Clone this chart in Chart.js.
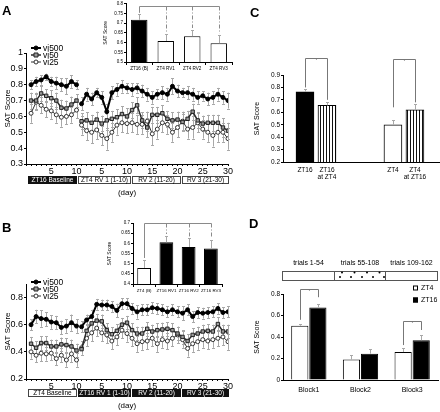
<!DOCTYPE html>
<html><head><meta charset="utf-8">
<script src="https://cdn.jsdelivr.net/npm/chart.js@4.4.1/dist/chart.umd.min.js"></script>
<style>
html,body{margin:0;padding:0;background:#fff;}
body{width:440px;height:412px;position:relative;overflow:hidden;}
canvas{position:absolute;}
.pl{position:absolute;font:bold 13px 'Liberation Sans',Arial,sans-serif;line-height:13px;color:#000;}
</style></head><body>
<canvas id="mainA" width="240" height="160" style="left:0;top:40px"></canvas>
<canvas id="insetA" width="145" height="75" style="left:95px;top:0"></canvas>
<canvas id="mainB" width="240" height="142" style="left:0;top:270px"></canvas>
<canvas id="insetB" width="140" height="82" style="left:100px;top:215px"></canvas>
<canvas id="chartC" width="195" height="140" style="left:245px;top:50px"></canvas>
<canvas id="chartD" width="195" height="157" style="left:245px;top:255px"></canvas>
<div class="pl" style="left:2px;top:4px">A</div>
<div class="pl" style="left:2px;top:221px">B</div>
<div class="pl" style="left:250px;top:6px">C</div>
<div class="pl" style="left:249px;top:217px">D</div>
<script>
// ================= DATA =================
const seriesNames = ['vi500', 'vi50', 'vi25'];
const xTickPositions = [5, 10, 15, 20, 25, 30, 35, 40];
const xTickLabels = ['5', '10', '5', '10', '15', '20', '25', '30'];
const aPeriodLabels = ['ZT16 Baseline', 'ZT4 RV 1 (1-10)', 'RV 2 (11-20)', 'RV 3 (21-30)'];
const bPeriodLabels = ['ZT4 Baseline', 'ZT16 RV 1 (1-10)', 'RV 2 (11-20)', 'RV 3 (21-30)'];

// Panel A (baseline days 1-10, reversal days 1-30)
const aVi500Base = [0.80, 0.82, 0.83, 0.85, 0.82, 0.81, 0.80, 0.79, 0.82, 0.80];
const aVi500BaseErr = [0.03, 0.03, 0.03, 0.02, 0.03, 0.04, 0.04, 0.05, 0.04, 0.03];
const aVi500Rv = [0.68, 0.74, 0.71, 0.75, 0.72, 0.63, 0.75, 0.77, 0.79, 0.78, 0.77, 0.78, 0.76, 0.74, 0.72, 0.74, 0.75, 0.74, 0.79, 0.76, 0.75, 0.75, 0.74, 0.72, 0.73, 0.71, 0.72, 0.74, 0.72, 0.70];
const aVi500RvErr = [0.04, 0.04, 0.04, 0.03, 0.04, 0.05, 0.04, 0.04, 0.04, 0.03, 0.04, 0.03, 0.04, 0.04, 0.04, 0.03, 0.04, 0.04, 0.05, 0.04, 0.03, 0.04, 0.04, 0.04, 0.03, 0.04, 0.04, 0.04, 0.04, 0.05];
const aVi50Base = [0.70, 0.70, 0.745, 0.73, 0.715, 0.70, 0.655, 0.65, 0.675, 0.70];
const aVi50BaseErr = [0.05, 0.05, 0.05, 0.04, 0.05, 0.05, 0.05, 0.05, 0.05, 0.04];
const aVi50Rv = [0.57, 0.575, 0.56, 0.58, 0.555, 0.575, 0.585, 0.595, 0.615, 0.60, 0.64, 0.67, 0.575, 0.53, 0.61, 0.61, 0.62, 0.585, 0.575, 0.58, 0.565, 0.585, 0.63, 0.575, 0.555, 0.56, 0.56, 0.56, 0.53, 0.51];
const aVi50RvErr = [0.05, 0.05, 0.05, 0.05, 0.05, 0.06, 0.05, 0.05, 0.05, 0.05, 0.05, 0.05, 0.05, 0.06, 0.05, 0.05, 0.05, 0.05, 0.05, 0.05, 0.05, 0.05, 0.05, 0.05, 0.05, 0.05, 0.05, 0.05, 0.06, 0.05];
const aVi25Base = [0.62, 0.69, 0.67, 0.645, 0.635, 0.61, 0.595, 0.60, 0.61, 0.64];
const aVi25BaseErr = [0.06, 0.05, 0.05, 0.05, 0.05, 0.05, 0.06, 0.05, 0.05, 0.05];
const aVi25Rv = [0.545, 0.51, 0.50, 0.515, 0.48, 0.46, 0.50, 0.545, 0.56, 0.555, 0.56, 0.55, 0.55, 0.57, 0.49, 0.52, 0.56, 0.55, 0.50, 0.53, 0.57, 0.52, 0.53, 0.56, 0.52, 0.50, 0.48, 0.50, 0.50, 0.46];
const aVi25RvErr = [0.06, 0.06, 0.07, 0.06, 0.06, 0.07, 0.06, 0.06, 0.06, 0.06, 0.06, 0.06, 0.06, 0.06, 0.07, 0.06, 0.06, 0.06, 0.06, 0.06, 0.06, 0.06, 0.07, 0.06, 0.06, 0.06, 0.07, 0.06, 0.06, 0.07];

// Panel B
const bVi500Base = [0.60, 0.66, 0.645, 0.64, 0.62, 0.615, 0.58, 0.59, 0.615, 0.59];
const bVi500BaseErr = [0.04, 0.05, 0.06, 0.05, 0.05, 0.05, 0.05, 0.05, 0.06, 0.05];
const bVi500Rv = [0.585, 0.635, 0.66, 0.75, 0.745, 0.745, 0.735, 0.705, 0.755, 0.755, 0.72, 0.695, 0.71, 0.71, 0.725, 0.72, 0.71, 0.695, 0.71, 0.695, 0.685, 0.71, 0.66, 0.69, 0.685, 0.69, 0.695, 0.72, 0.69, 0.695];
const bVi500RvErr = [0.04, 0.04, 0.05, 0.04, 0.04, 0.04, 0.04, 0.05, 0.04, 0.04, 0.04, 0.05, 0.04, 0.04, 0.04, 0.04, 0.04, 0.04, 0.04, 0.04, 0.05, 0.04, 0.04, 0.04, 0.04, 0.04, 0.04, 0.04, 0.04, 0.04];
const bVi50Base = [0.46, 0.43, 0.465, 0.465, 0.44, 0.44, 0.455, 0.45, 0.44, 0.41];
const bVi50BaseErr = [0.05, 0.05, 0.05, 0.05, 0.05, 0.05, 0.05, 0.05, 0.05, 0.05];
const bVi50Rv = [0.42, 0.555, 0.61, 0.63, 0.625, 0.56, 0.53, 0.555, 0.60, 0.615, 0.56, 0.535, 0.535, 0.57, 0.55, 0.56, 0.565, 0.57, 0.56, 0.535, 0.51, 0.48, 0.525, 0.535, 0.55, 0.555, 0.55, 0.605, 0.55, 0.55];
const bVi50RvErr = [0.04, 0.05, 0.05, 0.05, 0.05, 0.05, 0.05, 0.05, 0.05, 0.05, 0.05, 0.05, 0.05, 0.05, 0.05, 0.05, 0.05, 0.05, 0.05, 0.05, 0.05, 0.05, 0.05, 0.05, 0.05, 0.05, 0.05, 0.05, 0.05, 0.05];
const bVi25Base = [0.40, 0.375, 0.39, 0.385, 0.39, 0.35, 0.375, 0.34, 0.385, 0.34];
const bVi25BaseErr = [0.05, 0.05, 0.06, 0.05, 0.05, 0.05, 0.05, 0.05, 0.06, 0.05];
const bVi25Rv = [0.43, 0.50, 0.54, 0.575, 0.54, 0.525, 0.48, 0.51, 0.56, 0.535, 0.50, 0.46, 0.475, 0.48, 0.50, 0.46, 0.49, 0.48, 0.50, 0.525, 0.49, 0.425, 0.46, 0.475, 0.49, 0.48, 0.49, 0.50, 0.51, 0.475];
const bVi25RvErr = [0.05, 0.06, 0.06, 0.06, 0.06, 0.06, 0.06, 0.06, 0.06, 0.06, 0.06, 0.06, 0.06, 0.06, 0.06, 0.06, 0.06, 0.06, 0.06, 0.06, 0.06, 0.06, 0.06, 0.06, 0.06, 0.06, 0.06, 0.06, 0.06, 0.06];

// Insets
const aInsetLabels = ['ZT16 (B)', 'ZT4 RV1', 'ZT4 RV2', 'ZT4 RV3'];
const aInsetValues = [0.717, 0.608, 0.633, 0.597];
const aInsetErr = [0.028, 0.034, 0.034, 0.041];
const bInsetLabels = ['ZT4 (B)', 'ZT16 RV1', 'ZT16 RV2', 'ZT16 RV3'];
const bInsetValues = [0.479, 0.605, 0.582, 0.575];
const bInsetErr = [0.041, 0.033, 0.044, 0.043];

// Panel C
const cLabels = [['ZT16'], ['ZT16', 'at ZT4'], ['ZT4'], ['ZT4', 'at ZT16']];
const cValues = [0.765, 0.655, 0.50, 0.62];
const cErr = [0.02, 0.03, 0.04, 0.045];

// Panel D
const dBlocks = ['Block1', 'Block2', 'Block3'];
const dGroups = ['ZT4', 'ZT16'];
const dZT4 = [0.505, 0.19, 0.26];
const dZT4Err = [0.02, 0.045, 0.04];
const dZT16 = [0.675, 0.245, 0.37];
const dZT16Err = [0.03, 0.045, 0.05];
const dTrialLabels = ['trials 1-54', 'trials 55-108', 'trials 109-162'];

// ================= STYLE / HELPERS =================
const FONT = "'Liberation Sans', Arial, Helvetica, sans-serif";
Chart.defaults.font.family = FONT;
Chart.defaults.color = '#000';
Chart.defaults.animation = false;
Chart.defaults.responsive = false;
Chart.defaults.devicePixelRatio = 1;
Chart.defaults.plugins.legend.display = false;
Chart.defaults.plugins.tooltip.enabled = false;

const fmt = v => String(+Number(v).toFixed(2));
const ERR_COLOR = '#a8a8a8';

const lineStyles = [
  {borderColor: '#000', borderWidth: 2, pointStyle: 'circle', pointRadius: 2, pointBackgroundColor: '#000', pointBorderColor: '#000', pointBorderWidth: 1},
  {borderColor: '#2a2a2a', borderWidth: 1.5, pointStyle: 'rect', pointRadius: 2.4, pointBackgroundColor: '#9a9a9a', pointBorderColor: '#222', pointBorderWidth: 1},
  {borderColor: '#333', borderWidth: 1, pointStyle: 'circle', pointRadius: 2, pointBackgroundColor: '#fff', pointBorderColor: '#333', pointBorderWidth: 1}
];

// symmetric error bars behind lines
const lineErrPlugin = {
  id: 'lineErr',
  beforeDatasetsDraw(chart) {
    const ctx = chart.ctx, ys = chart.scales.y;
    ctx.save();
    ctx.strokeStyle = ERR_COLOR; ctx.lineWidth = 1;
    chart.data.datasets.forEach((ds, di) => {
      const meta = chart.getDatasetMeta(di);
      meta.data.forEach((el, i) => {
        const p = ds.data[i], e = ds.errors[i];
        if (!p || p.y == null || e == null) return;
        const x = Math.round(el.x) + 0.5;
        const y1 = ys.getPixelForValue(p.y + e), y2 = ys.getPixelForValue(p.y - e);
        ctx.beginPath();
        ctx.moveTo(x, y1); ctx.lineTo(x, y2);
        ctx.moveTo(x - 1.5, Math.round(y1) + 0.5); ctx.lineTo(x + 1.5, Math.round(y1) + 0.5);
        ctx.moveTo(x - 1.5, Math.round(y2) + 0.5); ctx.lineTo(x + 1.5, Math.round(y2) + 0.5);
        ctx.stroke();
      });
    });
    ctx.restore();
  }
};

// upper error bars on bars
const barErrPlugin = {
  id: 'barErr',
  afterDatasetsDraw(chart) {
    const ctx = chart.ctx, ys = chart.scales.y;
    ctx.save();
    ctx.strokeStyle = ERR_COLOR; ctx.lineWidth = 1;
    chart.data.datasets.forEach((ds, di) => {
      const meta = chart.getDatasetMeta(di);
      meta.data.forEach((el, i) => {
        const raw = ds.data[i]; const v = (typeof raw === 'object') ? raw.y : raw;
        const e = ds.errors[i];
        const x = Math.round(el.x) + 0.5;
        const y1 = Math.round(ys.getPixelForValue(v + e)) + 0.5;
        ctx.beginPath();
        ctx.moveTo(x, el.y); ctx.lineTo(x, y1);
        ctx.moveTo(x - 1.5, y1); ctx.lineTo(x + 1.5, y1);
        ctx.stroke();
      });
    });
    ctx.restore();
  }
};

// legend drawn inside main line charts
const lineLegendPlugin = {
  id: 'lineLegend',
  afterDraw(chart, args, opts) {
    const ctx = chart.ctx, ca = chart.chartArea;
    ctx.save();
    ctx.font = '8.5px ' + FONT; ctx.textBaseline = 'middle'; ctx.fillStyle = '#000';
    seriesNames.forEach((name, k) => {
      const st = lineStyles[k];
      const y = ca.top + opts.top + k * opts.gap;
      const x0 = ca.left + 5;
      ctx.strokeStyle = st.borderColor; ctx.lineWidth = st.borderWidth;
      ctx.beginPath(); ctx.moveTo(x0, y); ctx.lineTo(x0 + 10, y); ctx.stroke();
      ctx.fillStyle = st.pointBackgroundColor; ctx.strokeStyle = st.pointBorderColor; ctx.lineWidth = 1;
      ctx.beginPath();
      if (st.pointStyle === 'rect') ctx.rect(x0 + 3, y - 2, 4, 4);
      else ctx.arc(x0 + 5, y, 2, 0, Math.PI * 2);
      ctx.fill(); ctx.stroke();
      ctx.fillStyle = '#000';
      ctx.fillText(name, x0 + 12, y + 0.5);
    });
    ctx.restore();
  }
};

// period boxes under the x axis + "(day)"
const periodPlugin = {
  id: 'periods',
  afterDraw(chart, args, opts) {
    const ctx = chart.ctx, ca = chart.chartArea, xs = chart.scales.x;
    ctx.save();
    const top = ca.bottom + opts.offset, h = 8;
    opts.edges.forEach((e, i) => {
      if (i === opts.edges.length - 1) return;
      const x1 = Math.round(xs.getPixelForValue(e)) + 1, x2 = Math.round(xs.getPixelForValue(opts.edges[i + 1]));
      const dark = opts.dark[i];
      ctx.fillStyle = dark ? '#111' : '#fff';
      ctx.fillRect(x1, top, x2 - x1, h);
      ctx.strokeStyle = dark ? '#111' : '#444'; ctx.lineWidth = 1;
      ctx.strokeRect(x1 + 0.5, top + 0.5, x2 - x1 - 1, h - 1);
      ctx.fillStyle = dark ? '#fff' : '#000';
      ctx.font = '6.5px ' + FONT; ctx.textAlign = 'center'; ctx.textBaseline = 'middle';
      ctx.fillText(opts.labels[i], (x1 + x2) / 2, top + h / 2 + 0.5);
    });
    ctx.fillStyle = '#000'; ctx.font = '8px ' + FONT; ctx.textAlign = 'center'; ctx.textBaseline = 'middle';
    ctx.fillText('(day)', (ca.left + ca.right) / 2, ca.bottom + opts.dayOffset);
    ctx.restore();
  }
};

function axisBase(size, tickLen) {
  return {
    border: {color: '#000', width: 1},
    grid: {drawOnChartArea: false, color: '#000', tickLength: tickLen},
    ticks: {font: {size: size}, color: '#000', padding: 1}
  };
}

function mainChart(id, series, cfg) {
  const datasets = series.map((s, k) => {
    const pts = s.base.map((v, i) => ({x: i + 1, y: v}));
    pts.push({x: 10.5, y: null});
    s.rv.forEach((v, i) => pts.push({x: i + 11, y: v}));
    return Object.assign({label: seriesNames[k], data: pts, errors: s.baseErr.concat([null], s.rvErr), spanGaps: false, tension: 0}, lineStyles[k]);
  });
  const xAx = axisBase(9, 2);
  Object.assign(xAx, {type: 'linear', min: 0, max: 40, afterFit: sc => { sc.height = cfg.xH; }});
  Object.assign(xAx.ticks, {stepSize: 1, autoSkip: false, maxRotation: 0, padding: 0,
    callback: v => { const k = xTickPositions.indexOf(v); return k >= 0 ? xTickLabels[k] : ''; }});
  const yAx = axisBase(9, 2);
  Object.assign(yAx, {min: cfg.yMin, max: cfg.yMax, afterFit: sc => { sc.width = 23; },
    title: {display: true, text: 'SAT Score', font: {size: 8}, padding: 0}});
  Object.assign(yAx.ticks, {stepSize: 0.1, callback: fmt});
  return new Chart(document.getElementById(id), {
    type: 'line',
    data: {datasets},
    options: {
      layout: {padding: {left: 3, top: cfg.top, right: 12, bottom: 0}},
      scales: {x: xAx, y: yAx},
      plugins: {
        lineLegend: {top: cfg.legTop, gap: 7},
        periods: {edges: [0.2, 10.1, 20.8, 30.6, 40.2], labels: cfg.periodLabels, dark: cfg.dark, offset: cfg.boxOff, dayOffset: cfg.dayOff}
      }
    },
    plugins: [lineErrPlugin, lineLegendPlugin, periodPlugin]
  });
}

// ------------- Panel A & B main -------------
mainChart('mainA', [
  {base: aVi500Base, baseErr: aVi500BaseErr, rv: aVi500Rv, rvErr: aVi500RvErr},
  {base: aVi50Base, baseErr: aVi50BaseErr, rv: aVi50Rv, rvErr: aVi50RvErr},
  {base: aVi25Base, baseErr: aVi25BaseErr, rv: aVi25Rv, rvErr: aVi25RvErr}
], {yMin: 0.3, yMax: 1, top: 13, xH: 36, legTop: -5, periodLabels: aPeriodLabels, dark: [true, false, false, false], boxOff: 12, dayOff: 29});

mainChart('mainB', [
  {base: bVi500Base, baseErr: bVi500BaseErr, rv: bVi500Rv, rvErr: bVi500RvErr},
  {base: bVi50Base, baseErr: bVi50BaseErr, rv: bVi50Rv, rvErr: bVi50RvErr},
  {base: bVi25Base, baseErr: bVi25BaseErr, rv: bVi25Rv, rvErr: bVi25RvErr}
], {yMin: 0.2, yMax: 0.9, top: 14, xH: 33, legTop: -2, periodLabels: bPeriodLabels, dark: [false, true, true, true], boxOff: 10, dayOff: 27});

// ------------- Insets -------------
const insetBracketPlugin = {
  id: 'insetBracket',
  afterDatasetsDraw(chart, args, opts) {
    const ctx = chart.ctx, ys = chart.scales.y, meta = chart.getDatasetMeta(0);
    const ds = chart.data.datasets[0];
    const yTop = Math.round(ys.getPixelForValue(opts.level)) + 0.5;
    const xs = meta.data.map(el => Math.round(el.x) + 0.5);
    ctx.save();
    ctx.strokeStyle = '#8a8a8a'; ctx.lineWidth = 1;
    ctx.beginPath(); ctx.moveTo(xs[0], yTop); ctx.lineTo(xs[xs.length - 1], yTop); ctx.stroke();
    xs.forEach((x, i) => {
      const yEnd = ys.getPixelForValue(ds.data[i] + ds.errors[i] + 0.008);
      ctx.setLineDash(i === 0 ? [] : [4, 2, 1, 2]);
      ctx.beginPath(); ctx.moveTo(x, yTop); ctx.lineTo(x, yEnd); ctx.stroke();
    });
    ctx.restore();
  }
};

function insetChart(id, labels, values, errs, colors, cfg) {
  const xAx = axisBase(cfg.xFont, 3);
  Object.assign(xAx, {afterFit: sc => { sc.height = 13; }});
  Object.assign(xAx.ticks, {padding: 1, maxRotation: 0, autoSkip: false});
  const yAx = axisBase(4.5, 2);
  Object.assign(yAx, {min: cfg.yMin, max: cfg.yMax, afterFit: sc => { sc.width = cfg.yW; },
    title: {display: true, text: 'SAT Score', font: {size: 5}, padding: 0}});
  Object.assign(yAx.ticks, {stepSize: 0.05, callback: fmt});
  return new Chart(document.getElementById(id), {
    type: 'bar',
    data: {labels, datasets: [{data: values, errors: errs, backgroundColor: colors, borderColor: '#000', borderWidth: 1, barPercentage: 0.62, categoryPercentage: 1}]},
    options: {
      layout: {padding: {left: cfg.padL, top: cfg.padT, right: cfg.padR, bottom: 0}},
      scales: {x: xAx, y: yAx},
      plugins: {insetBracket: {level: cfg.level}}
    },
    plugins: [barErrPlugin, insetBracketPlugin]
  });
}

insetChart('insetA', aInsetLabels, aInsetValues, aInsetErr, ['#000', '#fff', '#fff', '#fff'],
  {yMin: 0.5, yMax: 0.8, yW: 23, padL: 8, padT: 2, padR: 8, level: 0.79, xFont: 4.6});
insetChart('insetB', bInsetLabels, bInsetValues, bInsetErr, ['#fff', '#000', '#000', '#000'],
  {yMin: 0.4, yMax: 0.7, yW: 26, padL: 7, padT: 8, padR: 18, level: 0.7, xFont: 4.4});

// ------------- brackets for C and D -------------
const pairBracketPlugin = {
  id: 'pairBracket',
  afterDatasetsDraw(chart, args, opts) {
    const ctx = chart.ctx, ys = chart.scales.y;
    ctx.save();
    ctx.strokeStyle = '#777'; ctx.lineWidth = 1;
    opts.items.forEach(b => {
      const xa = Math.round(chart.getDatasetMeta(b.a[0]).data[b.a[1]].x) + 0.5;
      const xb = Math.round(chart.getDatasetMeta(b.b[0]).data[b.b[1]].x) + 0.5;
      const yt = Math.round(ys.getPixelForValue(b.top)) + 0.5;
      ctx.beginPath();
      ctx.moveTo(xa, ys.getPixelForValue(b.aEnd)); ctx.lineTo(xa, yt); ctx.lineTo(xb, yt); ctx.lineTo(xb, ys.getPixelForValue(b.bEnd));
      ctx.stroke();
      ctx.fillStyle = '#777'; ctx.font = '5px ' + FONT; ctx.textAlign = 'center'; ctx.textBaseline = 'middle';
      ctx.fillText('*', (xa + xb) / 2, yt + 2);
    });
    ctx.restore();
  }
};

// ------------- Panel C -------------
const cSlots = [1, 2, 5, 6];
(function () {
  const stripeCanvas = document.createElement('canvas');
  stripeCanvas.width = 3; stripeCanvas.height = 4;
  const g = stripeCanvas.getContext('2d');
  g.fillStyle = '#fff'; g.fillRect(0, 0, 3, 4);
  g.fillStyle = '#111'; g.fillRect(0, 0, 1, 4);
  const stripes = g.createPattern(stripeCanvas, 'repeat');

  const xAx = axisBase(6.5, 0);
  Object.assign(xAx, {type: 'linear', offset: false, bounds: 'ticks', min: 0, max: 7.14, afterFit: sc => { sc.height = 28; },
    afterBuildTicks: sc => { sc.ticks = cSlots.map(v => ({value: v})); }});
  xAx.grid.drawTicks = false;
  xAx.grid.offset = false;
  Object.assign(xAx.ticks, {padding: 4, maxRotation: 0, autoSkip: false,
    callback: v => cLabels[cSlots.indexOf(v)]});
  const yAx = axisBase(6.5, 2);
  Object.assign(yAx, {min: 0.2, max: 0.9, afterFit: sc => { sc.width = 30; },
    title: {display: true, text: 'SAT Score', font: {size: 7}, padding: 0}});
  Object.assign(yAx.ticks, {stepSize: 0.1, callback: fmt});

  new Chart(document.getElementById('chartC'), {
    type: 'bar',
    data: {datasets: [{
      data: cValues.map((v, i) => ({x: cSlots[i], y: v})), errors: cErr,
      backgroundColor: ['#000', stripes, '#fff', stripes], borderColor: '#000', borderWidth: 1, barThickness: 18
    }]},
    options: {
      layout: {padding: {left: 8, top: 25, right: 0, bottom: 0}},
      scales: {x: xAx, y: yAx},
      plugins: {pairBracket: {items: [
        {a: [0, 0], b: [0, 1], top: 1.04, aEnd: 0.80, bEnd: 0.70},
        {a: [0, 2], b: [0, 3], top: 1.03, aEnd: 0.64, bEnd: 0.68}
      ]}}
    },
    plugins: [barErrPlugin, pairBracketPlugin]
  });
})();

// ------------- Panel D -------------
const dDecorPlugin = {
  id: 'dDecor',
  afterDraw(chart) {
    const ctx = chart.ctx, ca = chart.chartArea;
    ctx.save();
    const w = (ca.right - ca.left) / 3;
    const top = 16, h = 10;
    ctx.font = '7px ' + FONT; ctx.textAlign = 'center'; ctx.textBaseline = 'middle';
    for (let i = 0; i < 3; i++) {
      const x1 = Math.round(ca.left + i * w) - 1, x2 = Math.round(ca.left + (i + 1) * w);
      ctx.fillStyle = '#fff'; ctx.fillRect(x1, top, x2 - x1, h);
      ctx.strokeStyle = '#555'; ctx.lineWidth = 1;
      ctx.strokeRect(x1 + 0.5, top + 0.5, x2 - x1 - 1, h - 1);
      ctx.fillStyle = '#000';
      ctx.fillText(dTrialLabels[i], (x1 + x2) / 2, top - 8);
      if (i === 1) {
        for (let k = 0; k < 4; k++) { ctx.beginPath(); ctx.arc(x1 + 8 + k * 12.5, top + 1.5, 1, 0, Math.PI * 2); ctx.fill(); }
        for (let k = 0; k < 5; k++) { ctx.beginPath(); ctx.arc(x1 + 6 + k * 11, top + 6, 1, 0, Math.PI * 2); ctx.fill(); }
      }
    }
    // legend
    const lx = ca.right - 25;
    const colors = ['#fff', '#000'];
    dGroups.forEach((g, k) => {
      const y = ca.top - 6 + k * 12;
      ctx.fillStyle = colors[k]; ctx.strokeStyle = '#000'; ctx.lineWidth = 1;
      ctx.fillRect(lx, y - 2.5, 5, 5); ctx.strokeRect(lx + 0.5, y - 2, 4, 4);
      ctx.fillStyle = '#000'; ctx.textAlign = 'left'; ctx.font = '7px ' + FONT;
      ctx.fillText(g, lx + 8, y + 0.5);
    });
    ctx.restore();
  }
};

(function () {
  const xAx = axisBase(7, 0);
  xAx.grid.drawTicks = false;
  Object.assign(xAx, {afterFit: sc => { sc.height = 32; }});
  Object.assign(xAx.ticks, {padding: 6, maxRotation: 0});
  const yAx = axisBase(6.5, 2);
  Object.assign(yAx, {min: 0, max: 0.8, afterFit: sc => { sc.width = 30; },
    title: {display: true, text: 'SAT Score', font: {size: 7}, padding: 0}});
  Object.assign(yAx.ticks, {stepSize: 0.1, callback: fmt});
  new Chart(document.getElementById('chartD'), {
    type: 'bar',
    data: {labels: dBlocks, datasets: [
      {label: dGroups[0], data: dZT4, errors: dZT4Err, backgroundColor: '#fff', borderColor: '#000', borderWidth: 1, barPercentage: 0.95, categoryPercentage: 0.7},
      {label: dGroups[1], data: dZT16, errors: dZT16Err, backgroundColor: '#000', borderColor: '#000', borderWidth: 1, barPercentage: 0.95, categoryPercentage: 0.7}
    ]},
    options: {
      layout: {padding: {left: 8, top: 39, right: 2, bottom: 0}},
      scales: {x: xAx, y: yAx},
      plugins: {pairBracket: {items: [
        {a: [0, 0], b: [1, 0], top: 0.85, aEnd: 0.56, bEnd: 0.77},
        {a: [0, 2], b: [1, 2], top: 0.55, aEnd: 0.325, bEnd: 0.465}
      ]}}
    },
    plugins: [barErrPlugin, pairBracketPlugin, dDecorPlugin]
  });
})();
</script>
</body></html>
